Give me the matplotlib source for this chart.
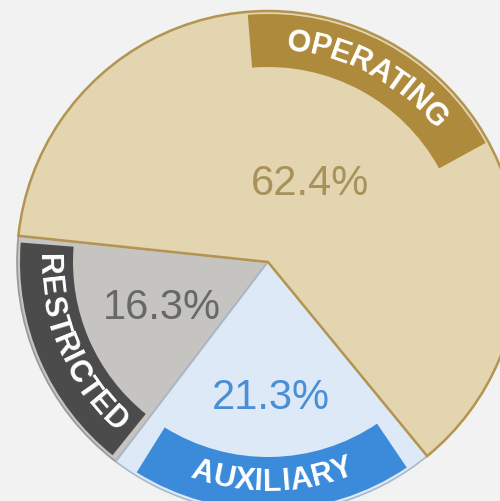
import numpy as np
import matplotlib
matplotlib.use("Agg")
import matplotlib.pyplot as plt
from matplotlib.patches import Wedge
from matplotlib.font_manager import FontProperties
from matplotlib.textpath import TextToPath

# data
categories = ["RESTRICTED", "AUXILIARY", "OPERATING"]
shares = [16.3, 21.3, 62.4]
pct_labels = ["16.3%", "21.3%", "62.4%"]

# styles
fill_colors = ["#C6C4C1", "#DDE9F6", "#E3D5B0"]
band_colors = ["#4B4B4B", "#3C8BDB", "#AE8A3C"]
pct_colors = ["#686868", "#4A8ED6", "#A8915A"]
edge_colors = ["#9A9896", "#A9B9C9", "#B39450"]
edge_widths = [1.2, 1.2, 1.8]
text_outward = [False, False, True]
pct_radius = [0.46, 0.54, 0.355]

BG = "#F2F2F2"
W, H = 500, 501
cx, cy = 268, H - 262
R = 251
band_in, band_out = 195, 248
band_half = 33
font = ["Liberation Sans", "DejaVu Sans"]

fig = plt.figure(figsize=(W / 100, H / 100), dpi=100, facecolor=BG)
ax = fig.add_axes([0, 0, 1, 1])
ax.set_facecolor(BG)

wedges, _ = ax.pie(shares, colors=fill_colors, startangle=174, counterclock=True,
                   radius=R, center=(cx, cy))
for w, ec, lw in zip(wedges, edge_colors, edge_widths):
    w.set_edgecolor(ec)
    w.set_linewidth(lw)

ttp = TextToPath()
fp = FontProperties(family="Liberation Sans", weight="bold", size=22)


def ink_w(s):
    w, h, d = ttp.get_text_width_height_descent(s, fp, ismath=False)
    return w * 100 / 72


def curved_text(s, theta_c, r, outward):
    # place each letter along the arc, centred on theta_c
    total = ink_w(s)
    for i, ch in enumerate(s):
        c = ink_w(s[:i + 1]) - ink_w(ch) / 2 - total / 2
        dth = np.degrees(c / r)
        if outward:
            th = theta_c - dth
            rot = th - 90
        else:
            th = theta_c + dth
            rot = th + 90
        x = cx + r * np.cos(np.radians(th))
        y = cy + r * np.sin(np.radians(th))
        ax.text(x, y, ch, fontproperties=fp, color="white", ha="center",
                va="center", rotation=rot, rotation_mode="anchor", zorder=5)


for i, w in enumerate(wedges):
    t1, t2 = w.theta1, w.theta2
    mid = (t1 + t2) / 2
    b1 = max(t1 + 1.5, mid - band_half)
    b2 = min(t2 - 1.5, mid + band_half)
    ax.add_patch(Wedge((cx, cy), band_out, b1, b2, width=band_out - band_in,
                       facecolor=band_colors[i], edgecolor="none", zorder=3))
    curved_text(categories[i], mid, (band_in + band_out) / 2 - 1, text_outward[i])
    pr = pct_radius[i] * R
    ax.text(cx + pr * np.cos(np.radians(mid)), cy + pr * np.sin(np.radians(mid)),
            pct_labels[i], color=pct_colors[i], fontsize=30, family=font,
            ha="center", va="center", zorder=5)

ax.set_xlim(0, W)
ax.set_ylim(0, H)
ax.set_aspect("equal")
ax.axis("off")
fig.savefig("out.png", dpi=100, facecolor=BG)
